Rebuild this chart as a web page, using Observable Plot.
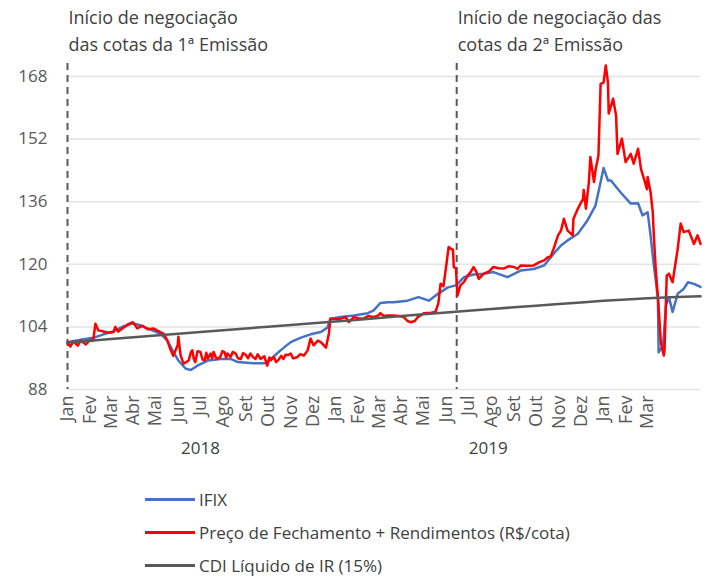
<!DOCTYPE html>
<html><head><meta charset="utf-8">
<script src="https://cdn.jsdelivr.net/npm/d3@7"></script>
<script src="https://cdn.jsdelivr.net/npm/@observablehq/plot@0.6"></script>
<style>
body{margin:0;background:#fff;font-family:"Open Sans",sans-serif;}
#chart{width:708px;}
#legend{padding-top:5px;}
.row{display:flex;align-items:center;height:33px;margin-left:145px;font-size:17px;color:#404040;}
.sw{width:50px;height:2.5px;margin-right:4px;}
</style></head><body><div id="chart"></div><div id="legend"></div><script>
// IFIX (date, value)
const ifix = [
["2018-01-01",100.1],["2018-01-19",100.7],["2018-02-05",101.2],["2018-02-19",102.1],["2018-03-05",102.9],
["2018-03-18",104.1],["2018-03-31",104.9],["2018-04-10",104.4],["2018-04-24",103.3],["2018-05-08",102.2],
["2018-05-17",100.5],["2018-05-24",98.0],["2018-06-01",95.4],["2018-06-11",93.3],["2018-06-18",93.0],
["2018-06-27",94.1],["2018-07-11",95.4],["2018-07-28",95.8],["2018-08-11",95.8],["2018-08-21",95.0],
["2018-09-11",94.7],["2018-09-28",94.7],["2018-10-05",95.8],["2018-10-18",98.0],["2018-11-01",100.1],
["2018-11-14",101.2],["2018-11-28",102.1],["2018-12-12",102.7],["2018-12-21",103.8],["2018-12-25",106.1],
["2019-01-08",106.5],["2019-01-26",106.9],["2019-02-14",107.5],["2019-02-22",108.2],["2019-03-03",110.1],
["2019-03-13",110.3],["2019-03-21",110.3],["2019-04-09",110.7],["2019-04-24",111.6],["2019-05-08",110.7],
["2019-05-21",112.5],["2019-06-03",114.1],["2019-06-14",114.6],["2019-06-25",116.7],["2019-07-08",117.4],
["2019-07-22",117.6],["2019-08-04",118.0],["2019-08-23",116.7],["2019-09-10",118.4],["2019-09-28",118.8],
["2019-10-12",119.7],["2019-10-25",122.7],["2019-11-04",124.8],["2019-11-13",126.1],["2019-11-27",127.8],
["2019-12-10",131.2],["2019-12-21",135.0],["2019-12-28",141.0],["2020-01-01",144.6],["2020-01-07",141.4],
["2020-01-11",141.4],["2020-01-24",138.4],["2020-02-07",135.5],["2020-02-17",135.6],["2020-02-23",132.5],
["2020-03-01",133.3],["2020-03-05",127.4],["2020-03-09",120.5],["2020-03-15",111.2],["2020-03-16",97.5],
["2020-03-22",99.2],["2020-03-26",109.5],["2020-03-30",111.6],["2020-04-04",107.8],["2020-04-11",112.5],
["2020-04-19",113.7],["2020-04-25",115.4],["2020-05-03",115.0],["2020-05-12",114.2]
];
// Preço de Fechamento + Rendimentos (date, value)
const preco = [
["2018-01-01",100.0],["2018-01-05",99.0],["2018-01-09",100.3],["2018-01-15",99.2],["2018-01-19",100.5],
["2018-01-26",99.5],["2018-02-01",100.7],["2018-02-05",100.5],["2018-02-08",104.8],["2018-02-12",103.1],
["2018-02-19",102.8],["2018-02-26",102.5],["2018-03-05",102.7],["2018-03-07",104.0],["2018-03-11",102.8],
["2018-03-18",103.8],["2018-03-25",104.7],["2018-03-31",105.2],["2018-04-04",104.2],["2018-04-06",103.6],
["2018-04-13",104.3],["2018-04-20",103.4],["2018-04-28",103.6],["2018-05-04",103.0],["2018-05-08",102.6],
["2018-05-12",102.2],["2018-05-17",100.5],["2018-05-21",98.3],["2018-05-25",96.6],["2018-05-31",99.3],
["2018-06-01",101.5],["2018-06-04",96.7],["2018-06-08",94.6],["2018-06-15",95.4],["2018-06-18",97.5],
["2018-06-20",98.0],["2018-06-22",95.8],["2018-06-24",95.0],["2018-06-27",97.8],["2018-07-01",97.6],
["2018-07-04",95.6],["2018-07-07",95.5],["2018-07-09",97.4],["2018-07-11",95.9],["2018-07-15",97.2],
["2018-07-17",96.0],["2018-07-19",97.6],["2018-07-22",96.2],["2018-07-24",95.8],["2018-07-28",96.3],
["2018-07-31",97.8],["2018-08-03",97.5],["2018-08-05",96.1],["2018-08-07",97.2],["2018-08-11",96.3],
["2018-08-14",97.6],["2018-08-18",97.2],["2018-08-21",96.0],["2018-08-25",95.8],["2018-08-28",97.3],
["2018-08-31",97.0],["2018-09-04",96.0],["2018-09-07",97.2],["2018-09-10",96.4],["2018-09-14",95.8],
["2018-09-17",97.0],["2018-09-21",95.8],["2018-09-26",96.5],["2018-09-30",94.1],["2018-10-03",96.2],
["2018-10-05",95.5],["2018-10-09",96.3],["2018-10-12",95.0],["2018-10-15",95.5],["2018-10-19",96.6],
["2018-10-22",95.8],["2018-10-25",96.9],["2018-10-28",96.8],["2018-11-01",97.2],["2018-11-04",96.0],
["2018-11-06",96.0],["2018-11-10",96.3],["2018-11-14",97.0],["2018-11-19",96.7],["2018-11-24",98.0],
["2018-11-28",101.0],
["2018-12-02",99.3],["2018-12-08",100.5],["2018-12-12",100.1],["2018-12-19",98.7],["2018-12-23",102.4],
["2018-12-25",106.1],["2019-01-01",106.0],["2019-01-08",106.1],["2019-01-15",106.5],["2019-01-19",105.2],
["2019-01-26",106.5],["2019-02-01",106.2],["2019-02-08",106.1],["2019-02-15",106.8],["2019-02-22",106.5],
["2019-03-01",107.0],["2019-03-03",107.5],["2019-03-08",106.8],["2019-03-13",106.9],["2019-03-21",106.9],
["2019-03-28",106.8],["2019-04-04",106.5],["2019-04-09",105.5],["2019-04-13",105.2],["2019-04-19",105.5],
["2019-04-23",106.5],["2019-05-01",107.5],["2019-05-11",107.6],["2019-05-17",107.8],["2019-05-21",110.0],
["2019-05-24",115.0],["2019-05-28",114.4],["2019-06-01",120.0],["2019-06-04",124.4],["2019-06-07",124.0],
["2019-06-10",123.7],["2019-06-11",119.3],["2019-06-14",118.9],["2019-06-16",112.0],["2019-06-20",114.6],
["2019-06-25",115.5],["2019-06-30",117.1],["2019-07-04",118.0],["2019-07-08",119.3],["2019-07-12",118.0],
["2019-07-15",116.3],["2019-07-22",117.6],["2019-07-29",118.2],["2019-08-04",119.3],["2019-08-11",119.0],
["2019-08-18",118.9],["2019-08-25",119.5],["2019-09-01",119.3],["2019-09-06",118.8],["2019-09-10",119.7],
["2019-09-20",119.6],["2019-09-28",119.7],["2019-10-05",120.5],["2019-10-12",121.0],["2019-10-17",121.8],
["2019-10-21",122.0],["2019-10-25",124.0],["2019-10-31",127.4],["2019-11-04",128.6],["2019-11-08",131.6],
["2019-11-13",128.6],["2019-11-20",127.4],["2019-11-21",131.6],["2019-11-27",134.2],["2019-12-04",136.7],
["2019-12-05",139.0],["2019-12-08",134.2],["2019-12-12",141.0],["2019-12-14",147.4],["2019-12-19",141.0],
["2019-12-21",144.0],["2019-12-25",147.8],["2019-12-28",166.1],["2020-01-01",166.4],["2020-01-04",170.8],
["2020-01-07",166.4],["2020-01-08",158.5],["2020-01-14",162.3],["2020-01-18",158.0],["2020-01-20",148.2],
["2020-01-26",152.1],["2020-01-31",146.1],["2020-02-07",148.2],["2020-02-11",145.7],["2020-02-17",149.5],
["2020-02-21",144.3],["2020-02-25",141.9],["2020-02-29",139.2],["2020-03-01",142.3],["2020-03-05",138.4],
["2020-03-08",133.3],["2020-03-09",129.0],["2020-03-12",118.8],["2020-03-15",111.7],["2020-03-19",100.1],
["2020-03-23",96.7],["2020-03-24",98.0],["2020-03-27",117.1],["2020-03-30",117.6],["2020-04-04",115.4],
["2020-04-06",117.9],["2020-04-11",124.0],["2020-04-15",130.4],["2020-04-19",128.2],["2020-04-26",128.6],
["2020-05-03",125.2],["2020-05-08",127.4],["2020-05-12",125.2]
];
// CDI Líquido de IR (15%) (date, value)
const cdi = [
["2018-01-01",100.0],["2018-02-01",100.45],["2018-03-01",100.9],["2018-04-01",101.35],["2018-05-01",101.8],
["2018-06-01",102.25],["2018-07-01",102.7],["2018-08-01",103.15],["2018-09-01",103.6],["2018-10-01",104.05],
["2018-11-01",104.5],["2018-12-01",104.95],["2019-01-01",105.4],["2019-02-01",105.85],["2019-03-01",106.3],
["2019-04-01",106.75],["2019-05-01",107.2],["2019-06-01",107.65],["2019-07-01",108.1],["2019-08-01",108.55],
["2019-09-01",109.0],["2019-10-01",109.4],["2019-11-01",109.85],["2019-12-01",110.25],["2020-01-01",110.7],
["2020-02-01",111.0],["2020-03-01",111.3],["2020-04-01",111.55],["2020-05-01",111.75],["2020-05-12",111.8]
];
const monthNames = ["Jan","Fev","Mar","Abr","Mai","Jun","Jul","Ago","Set","Out","Nov","Dez"];
const yTicks = [88,104,120,136,152,168];
const yearLabels = [["2018-07-01","2018"],["2019-07-28","2019"]];
const emissions = [["2018-01-01","Início de negociação\ndas cotas da 1ª Emissão"],["2019-06-15","Início de negociação das\ncotas da 2ª Emissão"]];
const seriesNames = ["IFIX","Preço de Fechamento + Rendimentos (R$/cota)","CDI Líquido de IR (15%)"];
const seriesColors = ["#4472C4","#FF0000","#595959"];

const parse = d3.utcParse("%Y-%m-%d");
const toRows = a => a.map(([d,v]) => ({date: parse(d), value: v}));
const monthTicks = d3.utcMonth.range(parse("2018-01-01"), parse("2020-03-02"));

const chart = Plot.plot({
  width: 708, height: 478,
  marginLeft: 67, marginRight: 8, marginTop: 63, marginBottom: 89,
  style: {fontFamily: "Open Sans, sans-serif", fontSize: "17px", color: "#595959", background: "#fff", overflow: "visible"},
  x: {type: "utc", domain: [parse("2018-01-01"), parse("2020-05-12")]},
  y: {domain: [88, 171.3]},
  marks: [
    Plot.gridY(yTicks, {stroke: "#e3e3e3", strokeOpacity: 1, strokeWidth: 1.5}),
    Plot.axisY(yTicks, {tickSize: 0, tickPadding: 20, fontSize: 17, fill: "#595959", label: null}),
    Plot.axisX(monthTicks, {tickSize: 0, tickRotate: -90, tickPadding: 6, fontSize: 18, fill: "#595959", label: null,
      tickFormat: d => monthNames[d.getUTCMonth()]}),
    Plot.ruleX(emissions, {x: d => parse(d[0]), stroke: "#595959", strokeWidth: 2, strokeDasharray: "7,5"}),
    Plot.line(toRows(ifix), {x: "date", y: "value", stroke: seriesColors[0], strokeWidth: 2.5}),
    Plot.line(toRows(preco), {x: "date", y: "value", stroke: seriesColors[1], strokeWidth: 2.5}),
    Plot.line(toRows(cdi), {x: "date", y: "value", stroke: seriesColors[2], strokeWidth: 2.5}),
    Plot.text(emissions, {x: d => parse(d[0]), text: d => d[1], frameAnchor: "top", lineAnchor: "bottom",
      dy: -13, dx: 1, textAnchor: "start", fontSize: 18, fill: "#404040", lineHeight: 1.5}),
    Plot.text(yearLabels, {x: d => parse(d[0]), text: d => d[1], frameAnchor: "bottom", dy: 64,
      fontSize: 17, fill: "#404040"})
  ]
});
document.getElementById("chart").appendChild(chart);

const legend = document.getElementById("legend");
seriesNames.forEach((name, i) => {
  const row = document.createElement("div");
  row.className = "row";
  const sw = document.createElement("span");
  sw.className = "sw";
  sw.style.background = seriesColors[i];
  const t = document.createElement("span");
  t.textContent = name;
  row.appendChild(sw); row.appendChild(t);
  legend.appendChild(row);
});
</script></body></html>
